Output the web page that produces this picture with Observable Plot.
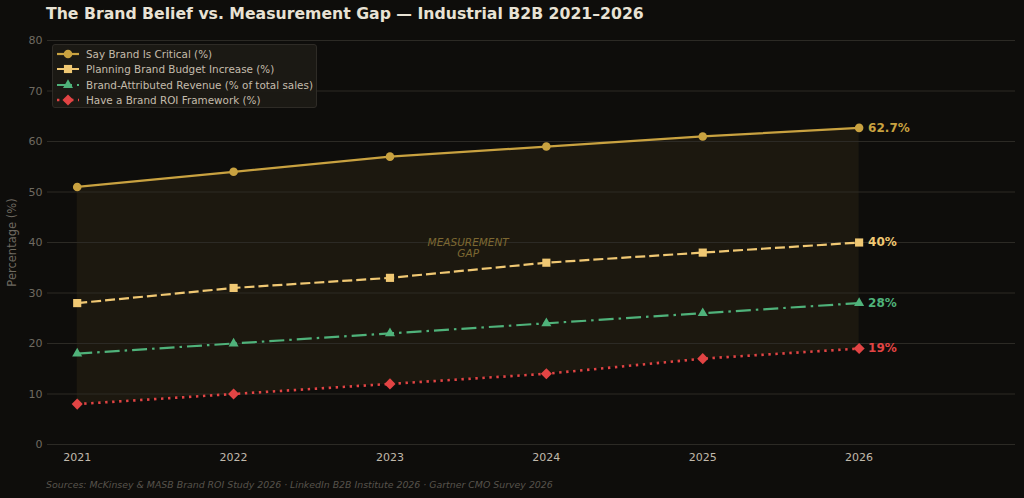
<!DOCTYPE html>
<html>
<head>
<meta charset="utf-8">
<script src="https://cdn.jsdelivr.net/npm/d3@7"></script>
<script src="https://cdn.jsdelivr.net/npm/@observablehq/plot@0.6"></script>
<style>
  html, body { margin: 0; padding: 0; background: #0e0d0b; }
  body { width: 1024px; height: 498px; position: relative; overflow: hidden; font-family: "DejaVu Sans", sans-serif; }
  #title { position: absolute; left: 46px; top: 4px; font-size: 15.7px; font-weight: bold; color: #e8e2d4; white-space: nowrap; }
  #chart { position: absolute; left: 0; top: 0; }
  #legend { position: absolute; left: 52px; top: 44px; width: 265px; height: 64px; box-sizing: border-box;
            background: rgba(28,26,22,0.92); border: 1px solid #2e2b26; border-radius: 3px; padding: 1px 0 0 3px; }
  .item { display: flex; align-items: center; height: 15.5px; font-size: 10.4px; color: #c4bcac; white-space: nowrap; }
  .item svg { margin-right: 6px; }
  #caption { position: absolute; left: 46px; top: 479px; font-size: 9.4px; font-style: italic; color: #57534b; white-space: nowrap; }
</style>
</head>
<body>
<div id="title">The Brand Belief vs. Measurement Gap — Industrial B2B 2021–2026</div>
<div id="chart"></div>
<div id="legend"></div>
<div id="caption">Sources: McKinsey &amp; MASB Brand ROI Study 2026 · LinkedIn B2B Institute 2026 · Gartner CMO Survey 2026</div>
<script>
// Survey years and series values (%)
const years = [2021, 2022, 2023, 2024, 2025, 2026];
const sayCritical = [51, 54, 57, 59, 61, 62.7];
const budgetIncrease = [28, 31, 33, 36, 38, 40];
const attributedRevenue = [18, 20, 22, 24, 26, 28];
const roiFramework = [8, 10, 12, 14, 17, 19];
const yTicks = [0, 10, 20, 30, 40, 50, 60, 70, 80];
const endLabels = ["62.7%", "40%", "28%", "19%"];

const series = [
  { name: "Say Brand Is Critical (%)", values: sayCritical, color: "#c9a240", dash: null, symbol: "circle", r: 4.3, width: 2.2 },
  { name: "Planning Brand Budget Increase (%)", values: budgetIncrease, color: "#f0c873", dash: "10,4", symbol: "square", r: 4.6, width: 2.2 },
  { name: "Brand-Attributed Revenue (% of total sales)", values: attributedRevenue, color: "#4fb27a", dash: "15,5,2.5,5", symbol: "triangle2", r: 4.8, width: 2.2 },
  { name: "Have a Brand ROI Framework (%)", values: roiFramework, color: "#e24444", dash: "2.4,4.6", symbol: "diamond2", r: 5, width: 2.6 }
];

const rows = series.flatMap((s, i) => years.map((yr, j) => ({ series: s.name, idx: i, year: yr, value: s.values[j] })));
const gap = years.map((yr, j) => ({ year: yr, low: roiFramework[j], high: sayCritical[j] }));
const ends = series.map((s, i) => ({ year: years[years.length - 1], value: s.values[s.values.length - 1], label: endLabels[i], color: s.color }));

const marks = [
  Plot.areaY(gap, { x: "year", y1: "low", y2: "high", fill: "#c9a240", fillOpacity: 0.08 }),
  Plot.gridY(yTicks, { stroke: "#2c2a25", strokeOpacity: 1, strokeWidth: 1 }),
  Plot.text(["MEASUREMENT\nGAP"], { x: 2023.5, y: 38.9, text: d => d, fill: "#7d6832", fontSize: 10.5, fontStyle: "italic", lineAnchor: "middle", lineHeight: 1.05 })
];
series.forEach((s, i) => {
  const d = rows.filter(r => r.idx === i);
  marks.push(Plot.line(d, { x: "year", y: "value", stroke: s.color, strokeWidth: s.width, strokeDasharray: s.dash || undefined, strokeLinecap: "butt" }));
  marks.push(Plot.dot(d, { x: "year", y: "value", symbol: () => s.symbol, r: s.r, fill: s.color, stroke: "none" }));
});
marks.push(Plot.text(ends, { x: "year", y: "value", text: "label", fill: d => d.color, dx: 9, textAnchor: "start", fontWeight: "bold", fontSize: 12 }));
marks.push(Plot.axisX(years, { tickSize: 0, tickPadding: 9, tickFormat: d => String(d), fill: "#c0b9ac", fontSize: 11, label: null }));
marks.push(Plot.axisY(yTicks, { tickSize: 0, tickPadding: 5, fill: "#6f6a61", fontSize: 11, label: null }));
marks.push(Plot.text(["Percentage (%)"], { frameAnchor: "left", textAnchor: "middle", dx: -35, rotate: -90, text: d => d, fill: "#6f6a61", fontSize: 11.5 }));

const chart = Plot.plot({
  width: 1024,
  height: 470,
  marginTop: 40,
  marginBottom: 26,
  marginLeft: 47,
  marginRight: 9,
  style: { background: "transparent", color: "#77726a", fontFamily: "DejaVu Sans, sans-serif", fontSize: "11.5px", overflow: "visible" },
  x: { type: "linear", domain: [2020.81, 2027] },
  y: { domain: [0, 80] },
  symbol: { type: "identity" },
  marks
});
document.getElementById("chart").appendChild(chart);

// Legend entries: line swatch with marker
const symbolTypes = { circle: d3.symbolCircle, square: d3.symbolSquare, triangle2: d3.symbolTriangle2, diamond2: d3.symbolDiamond2 };
const legend = document.getElementById("legend");
series.forEach(s => {
  const item = document.createElement("div");
  item.className = "item";
  const svg = d3.create("svg").attr("width", 24).attr("height", 12);
  svg.append("line").attr("x1", 1).attr("x2", 23).attr("y1", 6).attr("y2", 6)
    .attr("stroke", s.color).attr("stroke-width", s.width)
    .attr("stroke-dasharray", s.dash ? s.dash : null);
  svg.append("path").attr("transform", "translate(12,6)")
    .attr("d", d3.symbol(symbolTypes[s.symbol], Math.PI * s.r * s.r)()).attr("fill", s.color);
  item.appendChild(svg.node());
  const label = document.createElement("span");
  label.textContent = s.name;
  item.appendChild(label);
  legend.appendChild(item);
});
</script>
</body>
</html>
